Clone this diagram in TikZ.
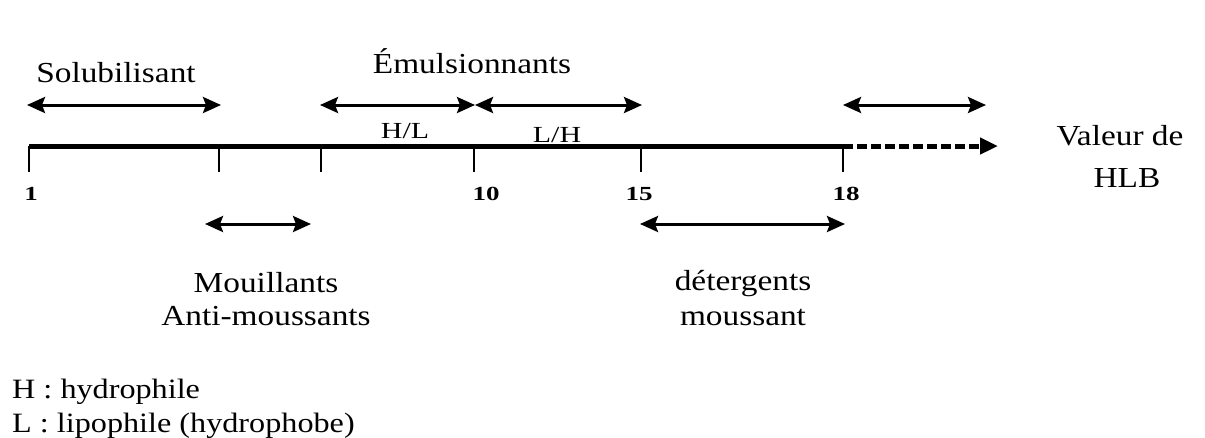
\documentclass[tikz,border=0pt]{standalone}
\usepackage{fontspec}
\setmainfont{Liberation Serif}[FakeStretch=1.15]
\newfontfamily\numfont{Liberation Serif}[FakeStretch=1.35]
\newfontfamily\smallfont{Liberation Serif}[FakeStretch=1.3]
\usetikzlibrary{arrows.meta}
\begin{document}
\begin{tikzpicture}[x=1pt,y=-1pt,
  tip/.tip={Stealth[length=18pt,width=16pt,inset=3pt]},
  dbl/.style={line width=3pt,tip-tip},
  axisline/.style={line width=5pt},
  tickline/.style={line width=2.4pt},
  lbl/.style={font=\fontsize{29}{37}\selectfont,align=center,inner sep=0pt},
  num/.style={font=\numfont\fontsize{20}{22}\selectfont\bfseries,inner sep=0pt,anchor=base},
  small/.style={font=\smallfont\fontsize{23}{26}\selectfont,inner sep=0pt,anchor=base},
  legend/.style={font=\fontsize{28}{30}\selectfont,inner sep=0pt,anchor=base west}]
\useasboundingbox (0,0) rectangle (1205,437);

% axis coordinates
\coordinate (t1) at (29,146);
\coordinate (t2) at (219,146);
\coordinate (t3) at (321,146);
\coordinate (t10) at (474,146);
\coordinate (t15) at (641,146);
\coordinate (t18) at (843,146);
\coordinate (tend) at (998,146);
\coordinate (b1) at (29,172);
\coordinate (b2) at (219,172);
\coordinate (b3) at (321,172);
\coordinate (b10) at (474,172);
\coordinate (b15) at (641,172);
\coordinate (b18) at (843,172);

\draw[axisline] (t1) -- (t18);
\draw[line width=5pt,dash pattern=on 10pt off 4pt,-{Triangle[length=18pt,width=16pt]}] (t18) -- (tend);
\foreach \i in {1,2,3,10,15,18} \draw[tickline] (t\i) -- (b\i);

% tick labels
\node[num] (n1) at (31,200) {1};
\node[num] (n10) at (486,200) {10};
\node[num] (n15) at (639,200) {15};
\node[num] (n18) at (846,200) {18};

% upper arrows
\coordinate (s1) at (27,105);
\coordinate (s2) at (221,105);
\coordinate (e1) at (320,105);
\coordinate (e2) at (475,105);
\coordinate (e3) at (642,105);
\coordinate (r1) at (843,105);
\coordinate (r2) at (986,105);
\draw[dbl] (s1) -- (s2);
\draw[dbl] (e1) -- (e2);
\draw[dbl] (e2) -- (e3);
\draw[dbl] (r1) -- (r2);

\node[lbl,anchor=base] (sol) at (116,82) {Solubilisant};
\node[lbl,anchor=base] (emu) at (472,73) {Émulsionnants};
\node[small] (hl) at (405,138) {H/L};
\node[small] (lh) at (557,142) {L/H};

% lower arrows
\coordinate (m1) at (205,224);
\coordinate (m2) at (311,224);
\coordinate (d1) at (640,224);
\coordinate (d2) at (845,224);
\draw[dbl] (m1) -- (m2);
\draw[dbl] (d1) -- (d2);

\node[lbl,anchor=base] (mou) at (266,292) {Mouillants};
\node[lbl,anchor=base] (anti) at (266,325) {Anti-moussants};
\node[lbl,anchor=base] (det) at (743,290) {détergents};
\node[lbl,anchor=base] (mss) at (743,325) {moussant};

\node[lbl,anchor=base] (val) at (1120,145) {Valeur de};
\node[lbl,anchor=base] (hlb) at (1127,187) {HLB};

\node[legend] (lgh) at (12,398) {H : hydrophile};
\node[legend] (lgl) at (12,432) {L : lipophile (hydrophobe)};
\end{tikzpicture}
\end{document}
